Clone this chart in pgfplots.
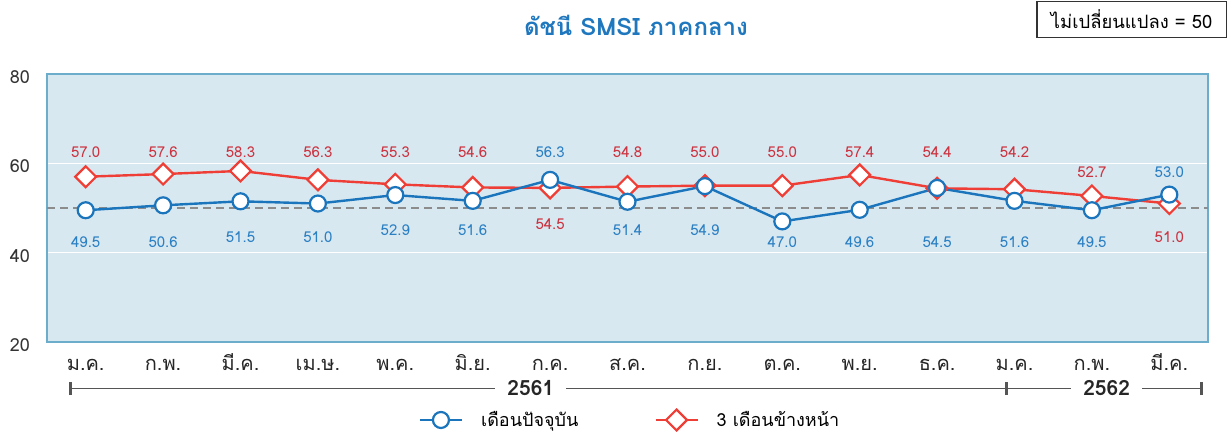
\documentclass[border=0pt]{standalone}
\usepackage{pgfplots}
\pgfplotsset{compat=1.18}
\usepackage{fontspec}
\setmainfont[Script=Thai]{Loma}
\definecolor{curblue}{HTML}{1B75BC}
\definecolor{futred}{HTML}{EF3E36}
\definecolor{lblblue}{HTML}{2B80C3}
\definecolor{lblred}{HTML}{CC3340}
\definecolor{plotbg}{HTML}{D8E8F1}
\definecolor{framebl}{HTML}{6CADCB}
\definecolor{yearln}{HTML}{555555}
\definecolor{titleblue}{HTML}{1F77BE}

\begin{document}
\begin{tikzpicture}
\begin{axis}[
  scale only axis,
  width=580.5pt, height=134pt,
  xmin=-0.5, xmax=14.5, ymin=20, ymax=80,
  axis background/.style={fill=plotbg},
  axis line style={framebl, line width=1pt},
  ytick={20,40,60,80},
  ymajorgrids, grid style={white, line width=0.8pt},
  xtick={0,...,14},
  xticklabels={ม.ค.,ก.พ.,มี.ค.,เม.ษ.,พ.ค.,มิ.ย.,ก.ค.,ส.ค.,ก.ย.,ต.ค.,พ.ย.,ธ.ค.,ม.ค.,ก.พ.,มี.ค.},
  major tick length=0pt,
  /pgf/number format/assume math mode=true,
  yticklabel style={font=\fontsize{9}{10}\selectfont, text=black!80, xshift=-5pt, yshift=-1.5pt},
  xticklabel style={font=\fontsize{10}{12}\selectfont, text=black!85, anchor=base, yshift=-14pt},
  clip=false,
  legend style={draw=none, fill=none, at={(0.503,-0.291)}, anchor=center,
    legend columns=2, font=\fontsize{9}{11}\selectfont,
    /tikz/every even column/.append style={column sep=36pt}},
  legend image code/.code={\draw[mark repeat=2,mark phase=2,#1] plot coordinates {(0pt,0pt) (10.5pt,0pt) (21pt,0pt)}; \path (28pt,0pt);},
]
% neutral line at 50
\addplot[forget plot, black!45, line width=0.75pt, dash pattern=on 4pt off 2.5pt] coordinates {(-0.5,50) (14.5,50)};

% 3 months ahead (drawn under the current series)
\addplot[forget plot, futred, line width=1.2pt, mark=square*, mark size=3.7pt,
  mark options={fill=white, rotate=45, line width=1.1pt}]
  coordinates {(0,57.0) (1,57.6) (2,58.3) (3,56.3) (4,55.3) (5,54.6) (6,54.5) (7,54.8)
               (8,55.0) (9,55.0) (10,57.4) (11,54.4) (12,54.2) (13,52.7) (14,51.0)};

% current month
\addplot[curblue, line width=1.2pt, mark=*, mark size=4pt,
  mark options={fill=white, line width=1.1pt}]
  coordinates {(0,49.5) (1,50.6) (2,51.5) (3,51.0) (4,52.9) (5,51.6) (6,56.3) (7,51.4)
               (8,54.9) (9,47.0) (10,49.6) (11,54.5) (12,51.6) (13,49.5) (14,53.0)};
\addlegendentry{เดือนปัจจุบัน}
\addlegendimage{futred, line width=1.2pt, mark=square*, mark size=3.7pt, mark options={fill=white, rotate=45, line width=1.1pt}}
\addlegendentry{3 เดือนข้างหน้า}

% value labels
\addplot[forget plot, draw=none, mark=none, nodes near coords, point meta=explicit symbolic,
  nodes near coords style={anchor=center, text=lblblue, font=\fontsize{7.5}{9}\selectfont}]
  coordinates {(0,42.3)[49.5] (1,42.3)[50.6] (2,43.4)[51.5] (3,43.4)[51.0] (4,45.0)[52.9]
               (5,45.0)[51.6] (6,62.5)[56.3] (7,45.0)[51.4] (8,45.0)[54.9] (9,42.3)[47.0]
               (10,42.3)[49.6] (11,42.3)[54.5] (12,42.3)[51.6] (13,42.3)[49.5] (14,58.0)[53.0]};
\addplot[forget plot, draw=none, mark=none, nodes near coords, point meta=explicit symbolic,
  nodes near coords style={anchor=center, text=lblred, font=\fontsize{7.5}{9}\selectfont}]
  coordinates {(0,62.5)[57.0] (1,62.5)[57.6] (2,62.5)[58.3] (3,62.5)[56.3] (4,62.5)[55.3]
               (5,62.5)[54.6] (6,46.4)[54.5] (7,62.5)[54.8] (8,62.5)[55.0] (9,62.5)[55.0]
               (10,62.5)[57.4] (11,62.5)[54.4] (12,62.5)[54.2] (13,58.0)[52.7] (14,43.4)[51.0]};

% year bracket
\draw[yearln, line width=0.8pt] (axis cs:-0.197,9.6) -- (axis cs:14.42,9.6);
\draw[yearln, line width=1.6pt] ([yshift=-3.3pt]axis cs:-0.197,9.6) -- ([yshift=3.3pt]axis cs:-0.197,9.6);
\draw[yearln, line width=1.6pt] ([yshift=-3.3pt]axis cs:11.9,9.6) -- ([yshift=3.3pt]axis cs:11.9,9.6);
\draw[yearln, line width=1.6pt] ([yshift=-3.3pt]axis cs:14.42,9.6) -- ([yshift=3.3pt]axis cs:14.42,9.6);
\node[fill=white, inner xsep=6pt, font=\bfseries\fontsize{10.5}{12}\selectfont, text=black!85] at (axis cs:5.75,9.6) {2561};
\node[fill=white, inner xsep=6pt, font=\bfseries\fontsize{10.5}{12}\selectfont, text=black!85] at (axis cs:13.19,9.6) {2562};

% title and note
\node[font=\bfseries\fontsize{12}{14}\selectfont, text=titleblue] at (axis cs:7.11,90.9) {ดัชนี SMSI ภาคกลาง};
\node[draw=black!80, line width=0.6pt, anchor=east, minimum height=18pt, inner xsep=7pt,
  font=\fontsize{9.2}{11}\selectfont] at (axis cs:14.745,92.2) {ไม่เปลี่ยนแปลง = 50};
\end{axis}
\pgfresetboundingbox
\useasboundingbox ([xshift=-23.5pt,yshift=-48.5pt]current axis.south west) rectangle ([xshift=10.5pt,yshift=37pt]current axis.north east);
\end{tikzpicture}
\end{document}
